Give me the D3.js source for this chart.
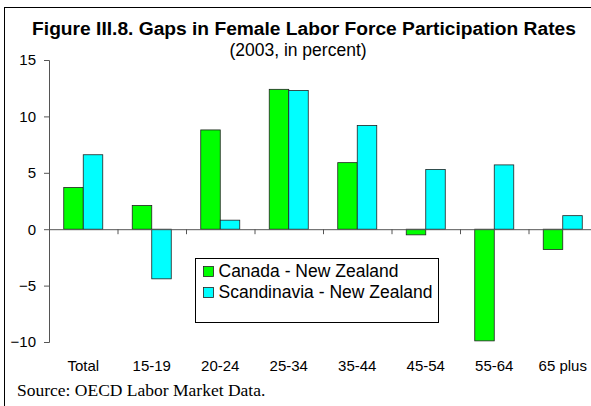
<!DOCTYPE html>
<html>
<head>
<meta charset="utf-8">
<script src="https://cdn.jsdelivr.net/npm/d3@7"></script>
<style>
  body { margin: 0; background: #fff; }
  svg { display: block; }
</style>
</head>
<body>
<script>
// values
const categories = ["Total", "15-19", "20-24", "25-34", "35-44", "45-54", "55-64", "65 plus"];
const seriesNames = ["Canada - New Zealand", "Scandinavia - New Zealand"];
const canadaNZ = [3.7, 2.1, 8.8, 12.4, 5.9, -0.5, -9.9, -1.8];
const scandNZ = [6.6, -4.4, 0.8, 12.3, 9.2, 5.3, 5.7, 1.2];
const yTicks = [-10, -5, 0, 5, 10, 15];
const colors = ["#00ff00", "#00ffff"];

const width = 591, height = 406;

const svg = d3.select("body").append("svg")
  .attr("width", width)
  .attr("height", height)
  .style("font-family", "Arial, 'Liberation Sans', sans-serif");

// outer frame, cut off on the right and bottom like the reference
svg.append("rect")
  .attr("x", 4.5).attr("y", 7.5)
  .attr("width", 620).attr("height", 420)
  .attr("fill", "none").attr("stroke", "#000").attr("stroke-width", 1);

const y = d3.scaleLinear().domain([-10, 15]).range([342, 60]);
const x0 = d3.scaleBand().domain(categories).range([49, 597]).padding(0);
const x1 = d3.scaleBand().domain(seriesNames).range([0, x0.bandwidth()])
  .paddingInner(0).paddingOuter(0.756);

const rows = categories.map((c, i) => ({ cat: c, vals: [canadaNZ[i], scandNZ[i]] }));

// bars
const groups = svg.selectAll("g.grp")
  .data(rows)
  .enter()
  .append("g")
  .attr("class", "grp")
  .attr("transform", d => `translate(${x0(d.cat)},0)`);

groups.selectAll("rect")
  .data(d => d.vals.map((v, j) => ({ v: v, s: seriesNames[j], j: j })))
  .enter()
  .append("rect")
  .attr("x", d => x1(d.s))
  .attr("width", x1.bandwidth())
  .attr("y", d => y(Math.max(0, d.v)))
  .attr("height", d => Math.abs(y(d.v) - y(0)))
  .attr("fill", d => colors[d.j])
  .attr("stroke", "#222")
  .attr("stroke-width", 0.8);

// y axis
const yAxis = svg.append("g")
  .attr("transform", "translate(49,0)")
  .call(d3.axisLeft(y).tickValues(yTicks).tickSize(5).tickPadding(8).tickFormat(d3.format("d")));
yAxis.select(".domain").attr("stroke", "#555");
yAxis.selectAll(".tick line").attr("stroke", "#555");
yAxis.selectAll("text").attr("font-size", 15).attr("fill", "#000")
  .attr("font-family", "Arial, 'Liberation Sans', sans-serif");

// x axis line along zero with ticks at category boundaries
const xAxis = svg.append("g")
  .attr("transform", `translate(0,${y(0)})`)
  .call(d3.axisBottom(d3.scaleLinear().domain([0, categories.length]).range([49, 597]))
    .tickValues(d3.range(0, categories.length + 1)).tickSize(5).tickFormat(""));
xAxis.select(".domain").attr("stroke", "#555");
xAxis.selectAll(".tick line").attr("stroke", "#555");

// category labels at the bottom
svg.selectAll("text.cat")
  .data(categories)
  .enter()
  .append("text")
  .attr("class", "cat")
  .attr("x", d => x0(d) + x0.bandwidth() / 2)
  .attr("y", 371)
  .attr("text-anchor", "middle")
  .attr("font-size", 15)
  .text(d => d);

// titles
svg.append("text")
  .attr("x", 304).attr("y", 34.5)
  .attr("text-anchor", "middle")
  .attr("font-size", 19.2).attr("font-weight", "bold")
  .text("Figure III.8. Gaps in Female Labor Force Participation Rates");

svg.append("text")
  .attr("x", 298).attr("y", 56)
  .attr("text-anchor", "middle")
  .attr("font-size", 17.5)
  .text("(2003, in percent)");

// legend
const legend = svg.append("g").attr("transform", "translate(195.5,258.5)");
legend.append("rect")
  .attr("width", 243).attr("height", 64)
  .attr("fill", "#fff").attr("stroke", "#000").attr("stroke-width", 1);

const items = legend.selectAll("g.item")
  .data(seriesNames)
  .enter()
  .append("g")
  .attr("class", "item")
  .attr("transform", (d, i) => `translate(8,${8 + i * 21})`);

items.append("rect")
  .attr("width", 10).attr("height", 10)
  .attr("fill", (d, i) => colors[i])
  .attr("stroke", "#222").attr("stroke-width", 0.8);

items.append("text")
  .attr("x", 15).attr("y", 10)
  .attr("font-size", 17.5)
  .text(d => d);

// source note
svg.append("text")
  .attr("x", 17).attr("y", 396)
  .attr("font-family", "'Times New Roman', 'Liberation Serif', serif")
  .attr("font-size", 17.5)
  .text("Source: OECD Labor Market Data.");
</script>
</body>
</html>
